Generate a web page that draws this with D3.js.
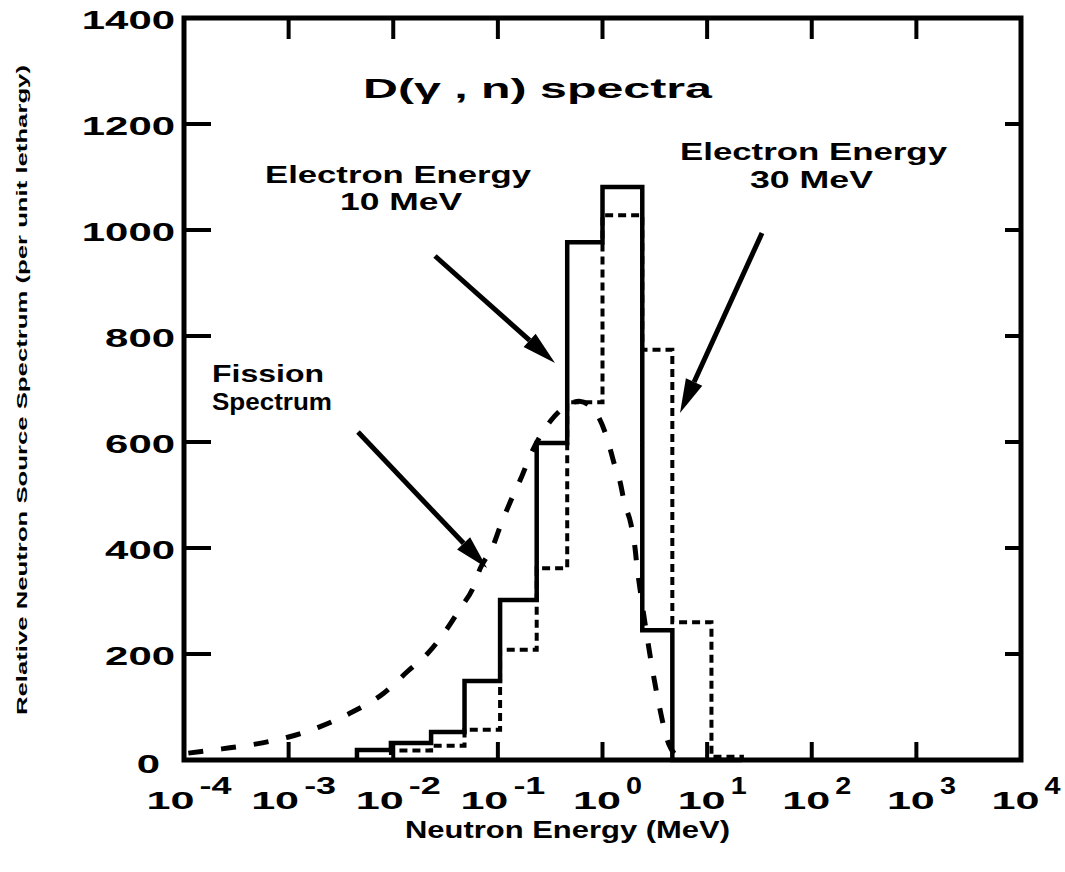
<!DOCTYPE html>
<html>
<head>
<meta charset="utf-8">
<script src="https://cdn.jsdelivr.net/npm/d3@7"></script>
<style>
  body { margin: 0; background: #fff; }
  text { font-family: 'Liberation Sans', Arial, sans-serif; font-weight: bold; fill: #000; }
</style>
</head>
<body>
<svg id="chart" width="1065" height="872"></svg>
<script>
// x tick exponents (10^n MeV) and y tick values
var xTickExps = [-4, -3, -2, -1, 0, 1, 2, 3, 4]
var yTicks = [0, 200, 400, 600, 800, 1000, 1200, 1400]

// histogram bin edges (MeV)
var binEdges = [0.0045, 0.0095, 0.023, 0.048, 0.105, 0.235, 0.46, 1, 2.4, 4.65, 11, 21.5]
// electron energy 10 MeV (solid)
var solid10 = [19, 32, 53, 149, 302, 598, 977, 1081, 245, 0, 0]
// electron energy 30 MeV (short dashes)
var dashed30 = [0, 18, 27, 57, 208, 362, 675, 1028, 774, 260, 6]

// fission spectrum
var fissionE = [1.1e-4, 2.3e-4, 4.8e-4, 9.8e-4, 1.95e-3, 4.1e-3, 8.1e-3, 0.0135, 0.022, 0.032, 0.044,
  0.058, 0.068, 0.089, 0.105, 0.13, 0.165, 0.21, 0.32, 0.45, 0.6, 0.83, 1.12, 1.29, 1.48, 1.62,
  1.86, 2.04, 2.14, 2.29, 2.7, 3.4, 4.3, 5.5]
var fissionV = [13, 21, 30, 43, 62, 91, 126, 166, 204, 245, 287,
  325, 362, 402, 440, 485, 530, 580, 640, 668, 677, 660, 604, 560, 523, 485,
  447, 402, 364, 321, 226, 113, 30, 4]

var svg = d3.select('#chart')

var x = d3.scaleLog().domain([1e-4, 1e4]).range([184, 1021])
var y = d3.scaleLinear().domain([0, 1400]).range([760, 18])

// stretched text that fills a given width
function label(g, str, left, base, size, len) {
  return g.append('text')
    .attr('x', left)
    .attr('y', base)
    .attr('font-size', size)
    .attr('textLength', len)
    .attr('lengthAdjust', 'spacingAndGlyphs')
    .text(str)
}

function stepPath(vals) {
  var p = d3.path()
  p.moveTo(x(binEdges[0]), y(0))
  vals.forEach(function(v, i) {
    p.lineTo(x(binEdges[i]), y(v))
    p.lineTo(x(binEdges[i + 1]), y(v))
  })
  p.lineTo(x(binEdges[binEdges.length - 1]), y(0))
  return p.toString()
}

// fission spectrum
var line = d3.line()
  .x(d => x(d[0]))
  .y(d => y(d[1]))
  .curve(d3.curveMonotoneX)

svg.append('path')
  .datum(d3.zip(fissionE, fissionV))
  .attr('d', line)
  .attr('fill', 'none')
  .attr('stroke', '#000')
  .attr('stroke-width', 5)
  .attr('stroke-dasharray', '15,18')

svg.append('path')
  .attr('d', stepPath(dashed30))
  .attr('fill', 'none')
  .attr('stroke', '#000')
  .attr('stroke-width', 4)
  .attr('stroke-dasharray', '8,5')

svg.append('path')
  .attr('d', stepPath(solid10))
  .attr('fill', 'none')
  .attr('stroke', '#000')
  .attr('stroke-width', 4.5)

// frame
svg.append('rect')
  .attr('x', x.range()[0])
  .attr('y', y.range()[1])
  .attr('width', x.range()[1] - x.range()[0])
  .attr('height', y.range()[0] - y.range()[1])
  .attr('fill', 'none')
  .attr('stroke', '#000')
  .attr('stroke-width', 5)

// ticks
var inner = yTicks.filter(d => d > 0 && d < 1400)
svg.selectAll('.ytl').data(inner).enter().append('line')
  .attr('x1', x.range()[0]).attr('x2', x.range()[0] + 27)
  .attr('y1', d => y(d)).attr('y2', d => y(d))
  .attr('stroke', '#000').attr('stroke-width', 4)
svg.selectAll('.ytr').data(inner).enter().append('line')
  .attr('x1', x.range()[1]).attr('x2', x.range()[1] - 16)
  .attr('y1', d => y(d)).attr('y2', d => y(d))
  .attr('stroke', '#000').attr('stroke-width', 4)

var innerX = xTickExps.slice(1, -1)
svg.selectAll('.xtt').data(innerX).enter().append('line')
  .attr('x1', d => x(Math.pow(10, d))).attr('x2', d => x(Math.pow(10, d)))
  .attr('y1', y.range()[1]).attr('y2', y.range()[1] + 21)
  .attr('stroke', '#000').attr('stroke-width', 4)
svg.selectAll('.xtb').data(innerX).enter().append('line')
  .attr('x1', d => x(Math.pow(10, d))).attr('x2', d => x(Math.pow(10, d)))
  .attr('y1', y.range()[0]).attr('y2', y.range()[0] - 18)
  .attr('stroke', '#000').attr('stroke-width', 4)

// y tick labels
yTicks.forEach(function(d) {
  var s = String(d)
  var len = s.length * 23.3
  var right = d === 0 ? 160 : 175
  label(svg, s, right - len, y(d) + (d === 0 ? 13 : 11), 25, len)
})

// x tick labels: 10 with raised exponent
xTickExps.forEach(function(e) {
  var sup = String(e)
  var supW = e < 0 ? 32 : 16
  var total = 53 + supW
  var left = x(Math.pow(10, e)) + 5 - total / 2
  label(svg, '10', left, 809, 24, 48)
  label(svg, sup, left + 53, 794, 23, supW)
})

// annotations
label(svg, 'D(\u03b3 , n) spectra', 363, 98, 27, 349)
label(svg, 'Electron Energy', 265, 183, 23, 266)
label(svg, '10 MeV', 340, 210, 23, 122)
label(svg, 'Electron Energy', 680, 160, 23, 267)
label(svg, '30 MeV', 750, 188, 23, 123)
label(svg, 'Fission', 212, 382, 23, 112)
label(svg, 'Spectrum', 212, 410, 23, 120)
label(svg, 'Neutron Energy (MeV)', 405, 838, 24, 325)

svg.append('g')
  .attr('transform', 'translate(27,715) rotate(-90)')
  .call(g => label(g, 'Relative Neutron Source Spectrum (per unit lethargy)', 0, 0, 14, 650))

// arrows: start x, start y, tip x, tip y
var arrows = [
  [435, 256, 555, 363],
  [762, 233, 680, 413],
  [358, 432, 487, 568]
]
arrows.forEach(function(a) {
  var ang = Math.atan2(a[3] - a[1], a[2] - a[0])
  var L = 34, W = 9
  var bx = a[2] - L * Math.cos(ang), by = a[3] - L * Math.sin(ang)
  svg.append('line')
    .attr('x1', a[0]).attr('y1', a[1]).attr('x2', bx).attr('y2', by)
    .attr('stroke', '#000').attr('stroke-width', 5)
  var px = -Math.sin(ang) * W, py = Math.cos(ang) * W
  svg.append('path')
    .attr('d', 'M' + a[2] + ',' + a[3] + 'L' + (bx + px) + ',' + (by + py) + 'L' + (bx - px) + ',' + (by - py) + 'Z')
    .attr('fill', '#000')
})
</script>
</body>
</html>
